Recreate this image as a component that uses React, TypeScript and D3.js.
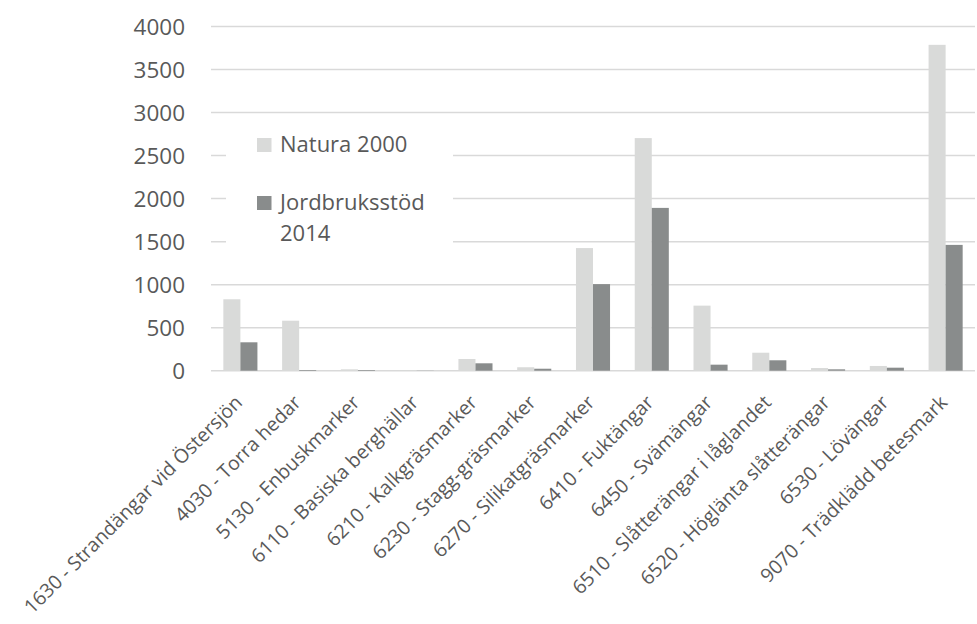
import * as d3 from 'd3';
import React from 'react';

const categories = [
  '1630 - Strandängar vid Östersjön',
  '4030 - Torra hedar',
  '5130 - Enbuskmarker',
  '6110 - Basiska berghällar',
  '6210 - Kalkgräsmarker',
  '6230 - Stagg-gräsmarker',
  '6270 - Silikatgräsmarker',
  '6410 - Fuktängar',
  '6450 - Svämängar',
  '6510 - Slåtterängar i låglandet',
  '6520 - Höglänta slåtterängar',
  '6530 - Lövängar',
  '9070 - Trädklädd betesmark',
];
const natura = [830, 581, 16, 6, 136, 40, 1425, 2703, 756, 209, 31, 55, 3787];
const jordbruk = [330, 8, 8, 2, 86, 23, 1006, 1892, 70, 121, 16, 35, 1462];
const seriesNames = ['Natura 2000', 'Jordbruksstöd 2014'];
const colors = ['#d9dad9', '#898c8c'];
const yTicks = [0, 500, 1000, 1500, 2000, 2500, 3000, 3500, 4000];

export default function App() {
  const w = 977;
  const h = 624;
  const left = 211;
  const right = 975;
  const top = 26.5;
  const bottom = 370.7;
  const font = '"Open Sans", sans-serif';
  const textColor = '#595959';

  const x = d3.scaleBand<string>().domain(categories).range([left, right]).paddingInner(0.42).paddingOuter(0.21);
  const inner = d3.scaleBand<number>().domain([0, 1]).range([0, x.bandwidth()]);
  const y = d3.scaleLinear().domain([0, 4000]).range([bottom, top]);

  const series = [natura, jordbruk];

  return (
    <svg width={w} height={h} style={{ position: 'absolute', left: 0, top: 0, background: 'white' }}>
      <g>
        {yTicks.map((t) => (
          <g key={t}>
            <line x1={left} x2={right} y1={y(t)} y2={y(t)} stroke='#d9d9d9' strokeWidth={1.5} />
            <text
              x={185}
              y={y(t)}
              dy='0.36em'
              textAnchor='end'
              fontFamily={font}
              fontSize={22.5}
              fill={textColor}>
              {t}
            </text>
          </g>
        ))}
      </g>
      <rect x={226} y={120} width={227} height={130} fill='white' />
      <g>
        {series.map((vals, si) =>
          vals.map((v, i) => (
            <rect
              key={si + '-' + i}
              x={(x(categories[i]) ?? 0) + (inner(si) ?? 0)}
              y={y(v)}
              width={inner.bandwidth()}
              height={bottom - y(v)}
              fill={colors[si]}
            />
          ))
        )}
      </g>
      <g>
        {categories.map((c) => {
          const cx = (x(c) ?? 0) + x.bandwidth() / 2 + 3;
          return (
            <text
              key={c}
              transform={`translate(${cx},${bottom + 33}) rotate(-45)`}
              textAnchor='end'
              fontFamily={font}
              fontSize={19.5}
              fill={textColor}>
              {c}
            </text>
          );
        })}
      </g>
      <g fontFamily={font} fontSize={22} fill={textColor}>
        <rect x={257} y={138} width={14.5} height={14} fill={colors[0]} />
        <text x={280} y={152}>
          {seriesNames[0]}
        </text>
        <rect x={257} y={196} width={14.5} height={14} fill={colors[1]} />
        <text x={280} y={210}>
          Jordbruksstöd
        </text>
        <text x={280} y={241}>
          2014
        </text>
      </g>
    </svg>
  );
}
